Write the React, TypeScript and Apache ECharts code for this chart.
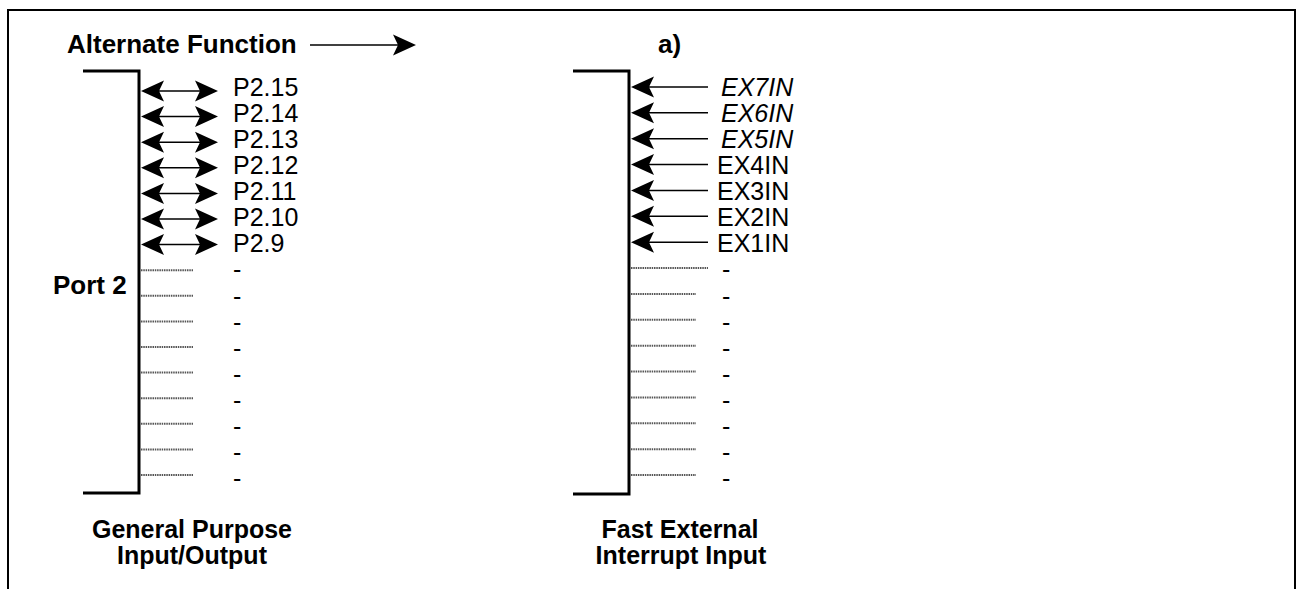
import React, { useEffect, useRef } from "react";
import * as echarts from "echarts";

// ---------- data ----------
const rowNames = ["15", "14", "13", "12", "11", "10", "9", "8", "7", "6", "5", "4", "3", "2", "1", "0"];
const leftLabels = ["P2.15", "P2.14", "P2.13", "P2.12", "P2.11", "P2.10", "P2.9", "-", "-", "-", "-", "-", "-", "-", "-", "-"];
const leftKinds = ["bi", "bi", "bi", "bi", "bi", "bi", "bi", "nc", "nc", "nc", "nc", "nc", "nc", "nc", "nc", "nc"];
const rightLabels = ["EX7IN", "EX6IN", "EX5IN", "EX4IN", "EX3IN", "EX2IN", "EX1IN", "-", "-", "-", "-", "-", "-", "-", "-", "-"];
const rightItalic = [true, true, true, false, false, false, false, false, false, false, false, false, false, false, false, false];
const rightKinds = ["in", "in", "in", "in", "in", "in", "in", "nc", "nc", "nc", "nc", "nc", "nc", "nc", "nc", "nc"];
const rightLongStub = [false, false, false, false, false, false, false, true, false, false, false, false, false, false, false, false];

const titleText = "Alternate Function";
const panelTag = "a)";
const portName = "Port 2";
const leftCaption = ["General Purpose", "Input/Output"];
const rightCaption = ["Fast External", "Interrupt Input"];

// ---------- layout ----------
const W = 1298;
const H = 589;
const FONT = '"Liberation Sans", Arial, Helvetica, sans-serif';
const FS = 25;
const FSB = 26;

function gridFor(first: number, last: number) {
  const band = (last - first) / (rowNames.length - 1);
  return { left: 0, right: 0, top: first - band / 2, bottom: H - (last + band / 2) };
}

const LEFT = { bracketLeft: 83, bracketX: 139, top: 71, bottom: 493, lineStart: 141, arrowEnd: 218, stubEnd: 193, labelX: 233, dashX: 233 };
const RIGHT = { bracketLeft: 573, bracketX: 629, top: 71, bottom: 494, lineStart: 631, arrowEnd: 708, stubEnd: 696, stubLongEnd: 708, labelX: 717, italicX: 721, dashX: 722 };

function head(tipX: number, y: number, dir: number) {
  const L = 23, Hh = 10.5, N = 18;
  return {
    type: "polygon",
    shape: { points: [[tipX, y], [tipX - dir * L, y - Hh], [tipX - dir * N, y], [tipX - dir * L, y + Hh]] },
    style: { fill: "#000" },
  };
}

function stub(x1: number, x2: number, y: number) {
  return {
    type: "line",
    shape: { x1, y1: y, x2, y2: y },
    style: { stroke: "#555", lineWidth: 2, lineDash: [1.5, 0.8] },
  };
}

function txt(text: string, x: number, y: number, opts: any = {}) {
  return {
    type: "text",
    style: {
      text,
      x,
      y,
      fill: "#000",
      fontSize: opts.size || (opts.bold ? FSB : FS),
      fontFamily: FONT,
      fontStyle: opts.italic ? "italic" : "normal",
      fontWeight: opts.bold ? "bold" : "normal",
      align: opts.align || "left",
      textAlign: opts.align || "left",
      verticalAlign: "middle",
      textVerticalAlign: "middle",
    },
  };
}

export default function App() {
  const ref = useRef<HTMLDivElement>(null);
  useEffect(() => {
    if (!ref.current) return;
    const chart = echarts.init(ref.current, undefined, { renderer: "svg" });
    const rowData = rowNames.map((n) => [0, n]);
    const axisX = (g: number) => ({ type: "value", gridIndex: g, min: 0, max: W, show: false });
    const axisY = (g: number) => ({ type: "category", gridIndex: g, data: rowNames, inverse: true, show: false });

    const option: any = {
      animation: false,
      backgroundColor: "#fff",
      grid: [gridFor(91, 475), gridFor(87, 475), gridFor(87, 478)],
      xAxis: [axisX(0), axisX(1), axisX(2)],
      yAxis: [axisY(0), axisY(1), axisY(2)],
      series: [
        // left port pins
        {
          type: "custom",
          xAxisIndex: 0,
          yAxisIndex: 0,
          silent: true,
          data: rowData,
          encode: { x: 0, y: 1 },
          renderItem: (params: any, api: any) => {
            const i = params.dataIndex;
            const y = api.coord([0, i])[1];
            if (leftKinds[i] === "bi") {
              return {
                type: "group",
                children: [
                  { type: "line", shape: { x1: LEFT.lineStart + 12, y1: y, x2: LEFT.arrowEnd - 12, y2: y }, style: { stroke: "#000", lineWidth: 1.5 } },
                  head(LEFT.lineStart, y, -1),
                  head(LEFT.arrowEnd, y, 1),
                ],
              };
            }
            return stub(LEFT.lineStart, LEFT.stubEnd, y);
          },
        },
        // left bracket
        {
          type: "custom",
          xAxisIndex: 0,
          yAxisIndex: 0,
          silent: true,
          data: [[0, rowNames[0]]],
          encode: { x: 0, y: 1 },
          renderItem: () => ({
            type: "polyline",
            shape: { points: [[LEFT.bracketLeft, LEFT.top], [LEFT.bracketX, LEFT.top], [LEFT.bracketX, LEFT.bottom], [LEFT.bracketLeft, LEFT.bottom]] },
            style: { stroke: "#000", lineWidth: 3, fill: "none" },
          }),
        },
        // right port pins
        {
          type: "custom",
          xAxisIndex: 1,
          yAxisIndex: 1,
          silent: true,
          data: rowData,
          encode: { x: 0, y: 1 },
          renderItem: (params: any, api: any) => {
            const i = params.dataIndex;
            const y = api.coord([0, i])[1];
            if (rightKinds[i] === "in") {
              return {
                type: "group",
                children: [
                  { type: "line", shape: { x1: RIGHT.lineStart + 12, y1: y, x2: RIGHT.arrowEnd, y2: y }, style: { stroke: "#000", lineWidth: 1.5 } },
                  head(RIGHT.lineStart, y, -1),
                ],
              };
            }
            return stub(RIGHT.lineStart, rightLongStub[i] ? RIGHT.stubLongEnd : RIGHT.stubEnd, y);
          },
        },
        // right bracket
        {
          type: "custom",
          xAxisIndex: 1,
          yAxisIndex: 1,
          silent: true,
          data: [[0, rowNames[0]]],
          encode: { x: 0, y: 1 },
          renderItem: () => ({
            type: "polyline",
            shape: { points: [[RIGHT.bracketLeft, RIGHT.top], [RIGHT.bracketX, RIGHT.top], [RIGHT.bracketX, RIGHT.bottom], [RIGHT.bracketLeft, RIGHT.bottom]] },
            style: { stroke: "#000", lineWidth: 3, fill: "none" },
          }),
        },
        // labels
        {
          type: "custom",
          xAxisIndex: 2,
          yAxisIndex: 2,
          silent: true,
          data: rowData,
          encode: { x: 0, y: 1 },
          renderItem: (params: any, api: any) => {
            const i = params.dataIndex;
            const y = api.coord([0, i])[1];
            const l = leftLabels[i];
            const r = rightLabels[i];
            const rx = r === "-" ? RIGHT.dashX : rightItalic[i] ? RIGHT.italicX : RIGHT.labelX;
            return {
              type: "group",
              children: [
                txt(l, l === "-" ? LEFT.dashX : LEFT.labelX, y),
                txt(r, rx, y, { italic: rightItalic[i] }),
              ],
            };
          },
        },
      ],
      graphic: [
        {
          type: "polyline",
          silent: true,
          shape: { points: [[8, H + 5], [8, 10], [1295, 10], [1295, H + 5]] },
          style: { stroke: "#000", lineWidth: 2, fill: "none" },
        },
        { ...txt(titleText, 67, 44, { bold: true }), silent: true },
        { type: "line", silent: true, shape: { x1: 310, y1: 45, x2: 402, y2: 45 }, style: { stroke: "#000", lineWidth: 1.5 } },
        { ...head(416, 45, 1), silent: true },
        { ...txt(panelTag, 658, 44, { bold: true }), silent: true },
        { ...txt(portName, 53, 285, { bold: true }), silent: true },
        { ...txt(leftCaption[0], 192, 529, { bold: true, align: "center", size: 25 }), silent: true },
        { ...txt(leftCaption[1], 192, 555, { bold: true, align: "center", size: 25 }), silent: true },
        { ...txt(rightCaption[0], 680, 529, { bold: true, align: "center", size: 25 }), silent: true },
        { ...txt(rightCaption[1], 681, 555, { bold: true, align: "center", size: 25 }), silent: true },
      ],
    };
    chart.setOption(option);
    return () => chart.dispose();
  }, []);
  return <div ref={ref} style={{ position: "fixed", left: 0, top: 0, width: W, height: H }} />;
}
